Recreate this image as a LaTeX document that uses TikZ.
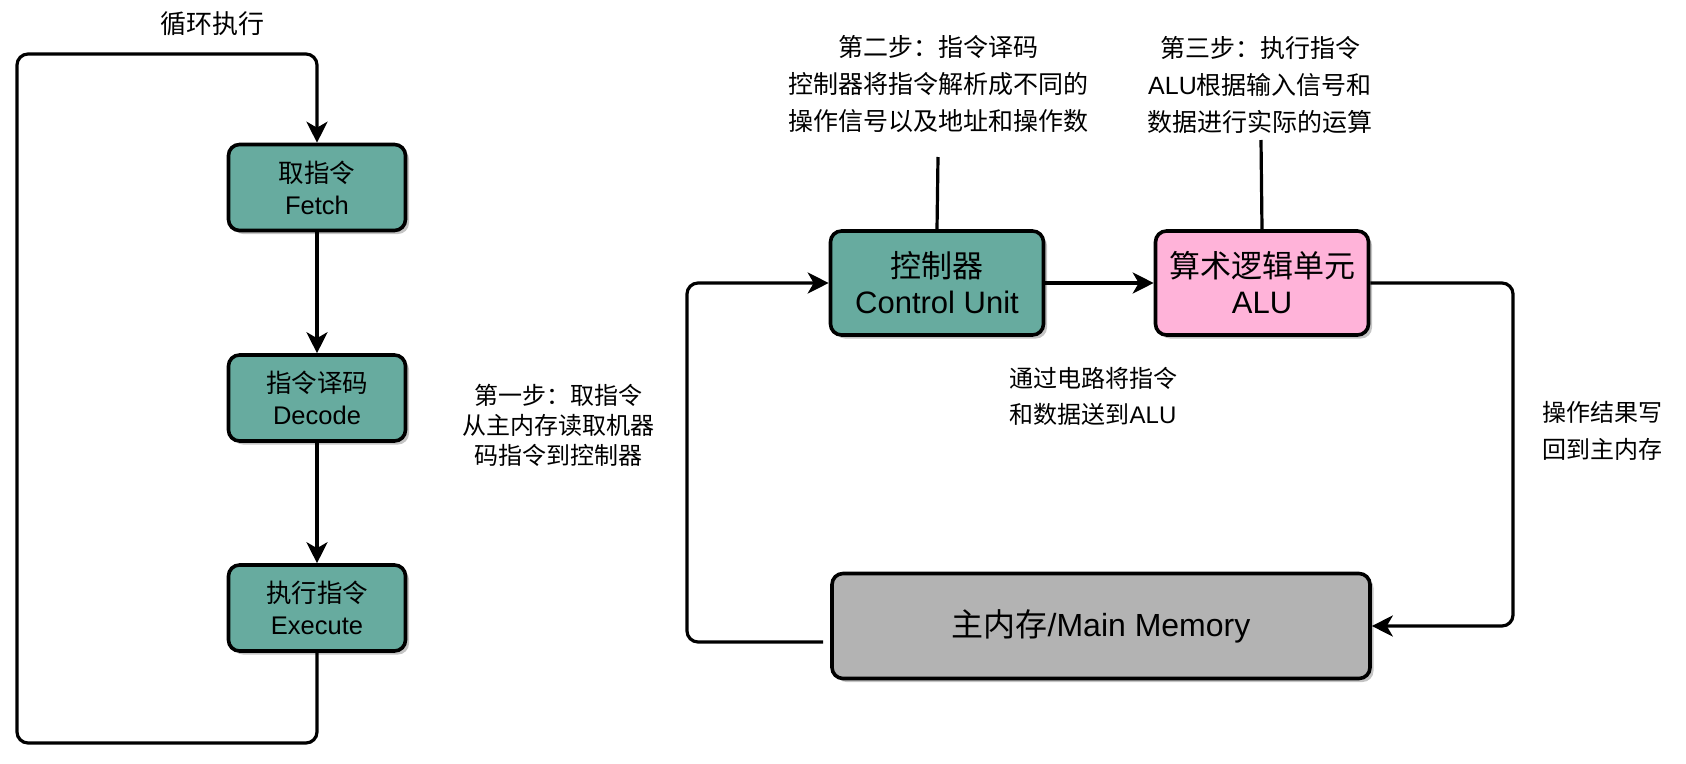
\documentclass[tikz,border=0pt]{standalone}
\usepackage{fontspec}
\setmainfont{Liberation Sans}
\newfontfamily\cjk{Noto Sans CJK SC}
\usetikzlibrary{arrows.meta,shadows}
\definecolor{tealbox}{HTML}{67AB9F}
\definecolor{pinkbox}{HTML}{FFB3D9}
\definecolor{graybox}{HTML}{B3B3B3}
\definecolor{shadecol}{HTML}{C4C4C4}
\begin{document}
\begin{tikzpicture}[x=1pt,y=-1pt,
  box/.style={draw=black, line width=3.6pt, rounded corners=11pt, align=center, inner sep=0pt,
    drop shadow={shadow xshift=3.5pt, shadow yshift=-3.5pt, fill=shadecol, opacity=1}},
  lbox/.style={box, fill=tealbox, minimum width=177pt, minimum height=86pt, font=\fontsize{25.5}{32}\selectfont},
  rbox/.style={box, minimum width=213pt, minimum height=104pt, font=\fontsize{31}{36}\selectfont},
  conn/.style={line width=3.2pt, rounded corners=11pt},
  arr/.style={conn, -{Stealth[length=21pt, width=21pt, inset=6pt]}},
  note/.style={align=center, font=\fontsize{25}{37}\selectfont, inner sep=0pt}
]
\useasboundingbox (0,0) rectangle (1686,763);

% left flow
\node[lbox] (fetch) at (317,187.5) {{\cjk 取指令}\\Fetch};
\node[lbox] (decode) at (317,398) {{\cjk 指令译码}\\Decode};
\node[lbox] (exec) at (317,608) {{\cjk 执行指令}\\Execute};

\coordinate (lb) at (317,743);
\coordinate (lbl) at (17,743);
\coordinate (ltl) at (17,54);
\coordinate (lt) at (317,54);

\draw[arr] (exec.south) -- (lb) -- (lbl) -- (ltl) -- (lt) -- (fetch.north);
\draw[arr] (fetch.south) -- (decode.north);
\draw[arr] (decode.south) -- (exec.north);

\node[note, font=\fontsize{26}{32}\selectfont] (loop) at (212,24) {\cjk 循环执行};
\node[note, font=\fontsize{24}{30}\selectfont] (step1) at (558,425) {\cjk 第一步：取指令\\\cjk 从主内存读取机器\\\cjk 码指令到控制器};

% right flow
\node[rbox, fill=tealbox] (cu) at (937,283) {{\cjk 控制器}\\Control Unit};
\node[rbox, fill=pinkbox] (alu) at (1262,283) {{\cjk 算术逻辑单元}\\ALU};
\node[box, fill=graybox, minimum width=538pt, minimum height=105pt, font=\fontsize{32}{36}\selectfont] (mem) at (1101,626) {{\cjk 主内存}/Main Memory};

\node[note] (step2) at (938,84.5) {\cjk 第二步：指令译码\\\cjk 控制器将指令解析成不同的\\\cjk 操作信号以及地址和操作数};
\node[note] (step3) at (1260,84.5) {\cjk 第三步：执行指令\\ALU{\cjk 根据输入信号和}\\\cjk 数据进行实际的运算};
\node[note, font=\fontsize{24}{36}\selectfont] (pass) at (1093,396) {\cjk 通过电路将指令\\{\cjk 和数据送到}ALU};
\node[note, font=\fontsize{24}{37}\selectfont] (wb) at (1602,431) {\cjk 操作结果写\\\cjk 回到主内存};

\coordinate (s2b) at (938,157);
\coordinate (s3b) at (1261,140);
\draw[conn] (cu.north) -- (s2b);
\draw[conn] (alu.north) -- (s3b);

\coordinate (m1) at (823,642);
\coordinate (m2) at (687,642);
\coordinate (m3) at (687,283);
\draw[arr] (m1) -- (m2) -- (m3) -- (cu.west);
\draw[arr] (cu.east) -- (alu.west);
\coordinate (r1) at (1513,283);
\coordinate (r2) at (1513,626);
\draw[arr] (alu.east) -- (r1) -- (r2) -- (mem.east);
\end{tikzpicture}
\end{document}
